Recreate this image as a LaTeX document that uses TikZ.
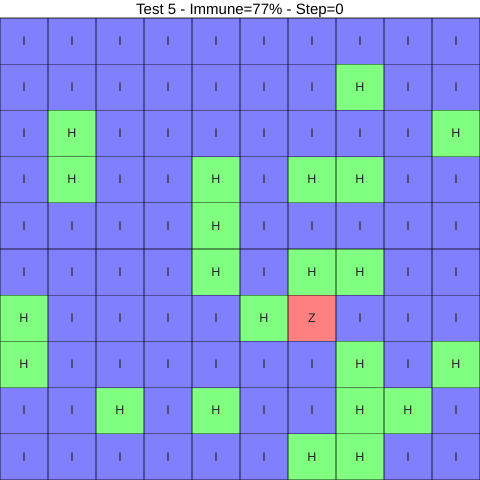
\documentclass[tikz,border=0pt]{standalone}
\usepackage{fontspec}
\setmainfont{Liberation Sans}
\definecolor{cI}{HTML}{8080FF}
\definecolor{cH}{HTML}{80FF80}
\definecolor{cZ}{HTML}{FF8080}
\begin{document}
\begin{tikzpicture}[x=1pt,y=1pt,
  celltext/.style={text=black!85, font=\fontsize{12.5}{14}\selectfont, inner sep=0pt},
  gridline/.style={draw=black, draw opacity=0.4, line width=1.3pt},
  titletext/.style={font=\fontsize{15}{18}\selectfont, inner sep=0pt, anchor=base}]
\useasboundingbox (0,0) rectangle (480,480);
\fill[white] (0,0) rectangle (480,480);
\node[titletext] (title) at (240,465) {Test 5 - Immune=77\% - Step=0};
\foreach \row [count=\r from 0] in {
  {I,I,I,I,I,I,I,I,I,I},
  {I,I,I,I,I,I,I,H,I,I},
  {I,H,I,I,I,I,I,I,I,H},
  {I,H,I,I,H,I,H,H,I,I},
  {I,I,I,I,H,I,I,I,I,I},
  {I,I,I,I,H,I,H,H,I,I},
  {H,I,I,I,I,H,Z,I,I,I},
  {H,I,I,I,I,I,I,H,I,H},
  {I,I,H,I,H,I,I,H,H,I},
  {I,I,I,I,I,I,H,H,I,I}} {
  \foreach \c [count=\k from 0] in \row {
    \pgfmathsetmacro{\xl}{48*\k}
    \pgfmathsetmacro{\yt}{462-46.2*\r}
    \fill[c\c] (\xl,\yt) rectangle ++(48,-46.2);
    \node[celltext] (cell-\r-\k) at (\xl+24,\yt-23.1) {\c};
  }
}
\foreach \i in {0,...,10} {
  \draw[gridline] (48*\i,0) -- (48*\i,462);
  \draw[gridline] (0,462-46.2*\i) -- (480,462-46.2*\i);
}
\end{tikzpicture}
\end{document}
